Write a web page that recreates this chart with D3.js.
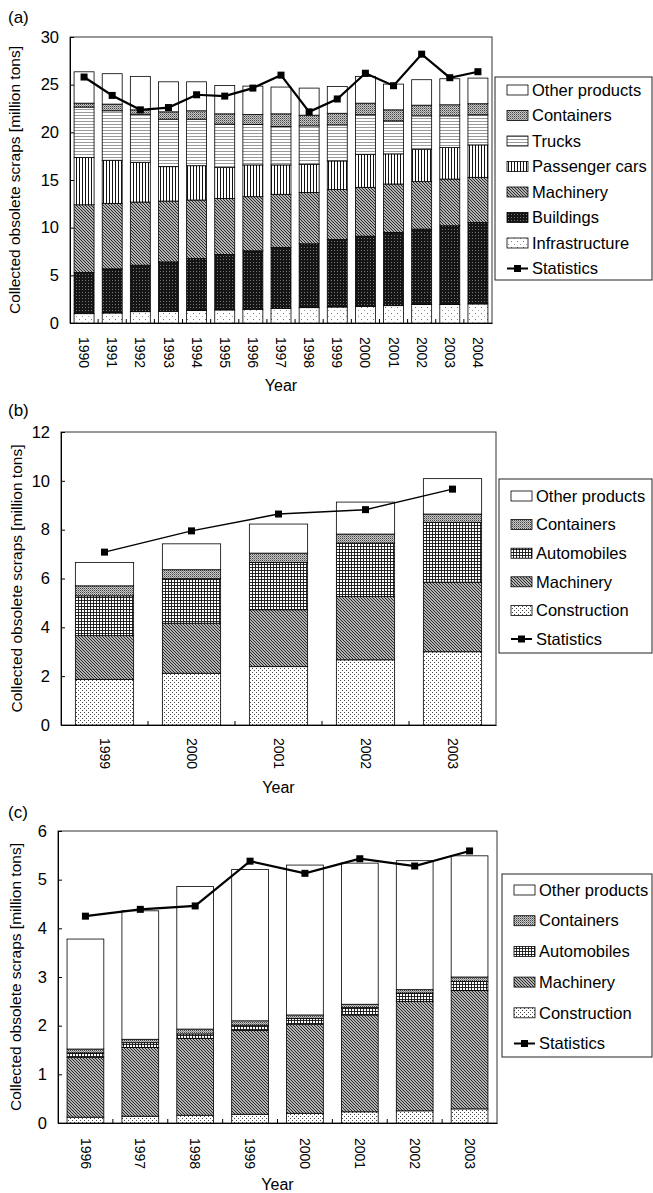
<!DOCTYPE html>
<html>
<head>
<meta charset="utf-8">
<script src="https://cdn.jsdelivr.net/npm/d3@7"></script>
<style>
body {margin:0; background:#fff;}
text {font-family:"Liberation Sans", Arial, sans-serif; fill:#000;}
</style>
</head>
<body>
<svg id="chart" width="653" height="1193"></svg>
<script>
// ---------------- data, panel (a)
var yearsA = ["1990","1991","1992","1993","1994","1995","1996","1997","1998","1999","2000","2001","2002","2003","2004"];
var infrastructureA = [0.98,1.05,1.19,1.23,1.30,1.37,1.44,1.54,1.61,1.68,1.75,1.82,1.93,1.93,2.00];
var buildingsA      = [4.32,4.63,4.87,5.18,5.46,5.82,6.13,6.38,6.70,7.08,7.36,7.68,7.92,8.27,8.55];
var machineryA      = [7.10,6.87,6.63,6.38,6.14,5.88,5.68,5.58,5.39,5.24,5.12,5.08,4.98,4.90,4.73];
var passengerCarsA  = [4.95,4.52,4.17,3.61,3.60,3.23,3.33,3.08,2.95,3.00,3.47,3.16,3.40,3.30,3.40];
var trucksA         = [5.30,5.19,5.04,4.98,4.88,4.56,4.24,4.03,4.03,3.78,4.14,3.46,3.50,3.33,3.16];
var containersA     = [0.41,0.70,0.46,0.77,0.88,1.08,1.05,1.33,1.12,1.22,1.22,1.16,1.12,1.16,1.16];
var otherA          = [3.29,3.19,3.51,3.15,3.04,2.98,2.98,2.81,2.84,2.80,2.81,2.70,2.67,2.73,2.69];
var statisticsA     = [25.8,23.87,22.36,22.6,23.94,23.8,24.64,26.0,22.15,23.5,26.2,24.89,28.2,25.73,26.36];

// ---------------- data, panel (b)
var yearsB = ["1999","2000","2001","2002","2003"];
var constructionB = [1.87,2.12,2.39,2.67,3.00];
var machineryB    = [1.79,2.05,2.33,2.59,2.85];
var automobilesB  = [1.63,1.82,1.94,2.19,2.45];
var containersB   = [0.41,0.37,0.38,0.37,0.34];
var otherB        = [0.96,1.06,1.19,1.31,1.45];
var statisticsB   = [7.08,7.95,8.64,8.82,9.66];

// ---------------- data, panel (c)
var yearsC = ["1996","1997","1998","1999","2000","2001","2002","2003"];
var constructionC = [0.12,0.14,0.16,0.18,0.20,0.23,0.25,0.29];
var machineryC    = [1.23,1.41,1.58,1.72,1.83,1.99,2.25,2.43];
var automobilesC  = [0.09,0.10,0.09,0.11,0.12,0.15,0.17,0.19];
var containersC   = [0.08,0.07,0.10,0.09,0.07,0.07,0.07,0.09];
var otherC        = [2.26,2.64,2.93,3.11,3.08,2.90,2.65,2.49];
var statisticsC   = [4.25,4.39,4.46,5.38,5.13,5.43,5.28,5.59];

var yTicksA = [0,5,10,15,20,25,30];
var yTicksB = [0,2,4,6,8,10,12];
var yTicksC = [0,1,2,3,4,5,6];

var yTitle = "Collected obsolete scraps [million tons]";

var svg = d3.select("#chart");
var defs = svg.append("defs");

/////////////////////////////////////////
// fill patterns (printed-style hatching)
function pattern(id, w, h, bg, draw){
	var p = defs.append("pattern").attr("id", id)
		.attr("patternUnits", "userSpaceOnUse")
		.attr("width", w).attr("height", h);
	p.append("rect").attr("width", w).attr("height", h).attr("fill", bg);
	draw(p);
}
function dot(p, x, y, c){
	p.append("rect").attr("x", x).attr("y", y).attr("width", 1).attr("height", 1).attr("fill", c);
}

pattern("p-other", 4, 4, "#fff", function(p){});
pattern("p-containers", 2, 2, "#c8c8c8", function(p){ dot(p,0,0,"#444"); dot(p,1,1,"#888"); });
pattern("p-trucks", 4, 3, "#fff", function(p){
	p.append("path").attr("d","M0,2 L1,1 L2,2 L3,1 L4,2").attr("stroke","#555").attr("stroke-width",0.6).attr("fill","none");
});
pattern("p-cars", 3, 3, "#fff", function(p){
	p.append("rect").attr("x",1).attr("y",0).attr("width",1).attr("height",3).attr("fill","#111");
});
pattern("p-machinery", 3, 3, "#f4f4f4", function(p){
	p.append("path").attr("d","M-1,-1 L4,4 M-1,2 L1,4 M2,-1 L4,1").attr("stroke","#222").attr("stroke-width",1.2);
});
pattern("p-buildings", 3, 3, "#151515", function(p){ dot(p,1,1,"#777"); });
pattern("p-infra", 6, 6, "#fff", function(p){ dot(p,1,1,"#777"); dot(p,4,4,"#999"); });
pattern("p-auto", 3, 3, "#fff", function(p){
	p.append("rect").attr("x",0).attr("y",0).attr("width",0.9).attr("height",3).attr("fill","#111");
	p.append("rect").attr("x",0).attr("y",0).attr("width",3).attr("height",0.9).attr("fill","#111");
});
pattern("p-construction", 4, 4, "#fff", function(p){ dot(p,0,0,"#444"); dot(p,2,2,"#444"); });

/////////////////////////////////////////
// panel definitions
var panels = [
	{
		tag: "(a)", years: yearsA, stats: statisticsA, yTicks: yTicksA, yMax: 30,
		series: [
			{name:"Infrastructure", values: infrastructureA, fill:"p-infra"},
			{name:"Buildings", values: buildingsA, fill:"p-buildings"},
			{name:"Machinery", values: machineryA, fill:"p-machinery"},
			{name:"Passenger cars", values: passengerCarsA, fill:"p-cars"},
			{name:"Trucks", values: trucksA, fill:"p-trucks"},
			{name:"Containers", values: containersA, fill:"p-containers"},
			{name:"Other products", values: otherA, fill:"p-other"}
		],
		plot: {x0:70, x1:492, y0:37, y1:323}, tagY: 23, titleX: 20,
		legend: {x0:495, y0:77, y1:280, first:90, step:25.5},
		tickTop: 14, yearY: 391, lineW: 2.2, barPad: 0.29
	},
	{
		tag: "(b)", years: yearsB, stats: statisticsB, yTicks: yTicksB, yMax: 12,
		series: [
			{name:"Construction", values: constructionB, fill:"p-construction"},
			{name:"Machinery", values: machineryB, fill:"p-machinery"},
			{name:"Automobiles", values: automobilesB, fill:"p-auto"},
			{name:"Containers", values: containersB, fill:"p-containers"},
			{name:"Other products", values: otherB, fill:"p-other"}
		],
		plot: {x0:61, x1:496, y0:432, y1:725}, tagY: 416, titleX: 22,
		legend: {x0:499, y0:479, y1:653, first:496, step:28.6},
		tickTop: 13, yearY: 793, lineW: 1.5, barPad: 0.33
	},
	{
		tag: "(c)", years: yearsC, stats: statisticsC, yTicks: yTicksC, yMax: 6,
		series: [
			{name:"Construction", values: constructionC, fill:"p-construction"},
			{name:"Machinery", values: machineryC, fill:"p-machinery"},
			{name:"Automobiles", values: automobilesC, fill:"p-auto"},
			{name:"Containers", values: containersC, fill:"p-containers"},
			{name:"Other products", values: otherC, fill:"p-other"}
		],
		plot: {x0:58, x1:497, y0:831, y1:1123}, tagY: 818, titleX: 21,
		legend: {x0:502, y0:874, y1:1057, first:890, step:30.7},
		tickTop: 15, yearY: 1190, lineW: 2.2, barPad: 0.33
	}
];

panels.forEach(drawPanel);

/////////////////////////////////////////
function drawPanel(cfg){
	var P = cfg.plot;
	var g = svg.append("g");

	var keys = cfg.series.map(function(s){ return s.name; });
	var rows = cfg.years.map(function(yr, i){
		var r = {year: yr};
		cfg.series.forEach(function(s){ r[s.name] = s.values[i]; });
		return r;
	});
	var stacked = d3.stack().keys(keys)(rows);

	var x = d3.scaleBand().domain(cfg.years).range([P.x0, P.x1])
		.paddingInner(cfg.barPad).paddingOuter(cfg.barPad / 2);
	var y = d3.scaleLinear().domain([0, cfg.yMax]).range([P.y1, P.y0]);

	// plot frame
	g.append("rect").attr("x", P.x0).attr("y", P.y0)
		.attr("width", P.x1 - P.x0).attr("height", P.y1 - P.y0)
		.attr("fill", "none").attr("stroke", "#333").attr("stroke-width", 1);

	// stacked bars
	stacked.forEach(function(layer, k){
		g.append("g").selectAll("rect").data(layer).join("rect")
			.attr("x", function(d){ return x(d.data.year); })
			.attr("y", function(d){ return y(d[1]); })
			.attr("width", x.bandwidth())
			.attr("height", function(d){ return y(d[0]) - y(d[1]); })
			.attr("fill", "url(#" + cfg.series[k].fill + ")")
			.attr("stroke", "#000").attr("stroke-width", 0.8);
	});

	// y axis
	var ya = g.append("g").attr("transform", "translate(" + P.x0 + ",0)")
		.call(d3.axisLeft(y).tickValues(cfg.yTicks).tickFormat(d3.format("d"))
			.tickSize(-4).tickPadding(11));
	ya.select(".domain").attr("stroke", "#000");
	ya.selectAll("text").style("font-size", "16.5px");

	// x axis: labels rotated, small ticks between categories
	var xa = g.append("g").attr("transform", "translate(0," + P.y1 + ")")
		.call(d3.axisBottom(x).tickSize(0).tickPadding(0));
	xa.select(".domain").attr("stroke", "#000");
	xa.selectAll("text")
		.style("font-size", "14px")
		.attr("text-anchor", "start")
		.attr("transform", "translate(0," + cfg.tickTop + ") rotate(90)")
		.attr("x", 0).attr("y", 0).attr("dy", "0.35em");
	var bounds = cfg.years.slice(1).map(function(yr){
		return x(yr) + x.bandwidth() / 2 - x.step() / 2;
	});
	g.append("g").selectAll("line").data(bounds).join("line")
		.attr("x1", function(d){ return d; }).attr("x2", function(d){ return d; })
		.attr("y1", P.y1).attr("y2", P.y1 - 4)
		.attr("stroke", "#000").attr("stroke-width", 1);

	// statistics line
	var line = d3.line()
		.x(function(d, i){ return x(cfg.years[i]) + x.bandwidth() / 2; })
		.y(function(d){ return y(d); });
	g.append("path").datum(cfg.stats).attr("d", line)
		.attr("fill", "none").attr("stroke", "#000").attr("stroke-width", cfg.lineW);
	g.append("g").selectAll("rect").data(cfg.stats).join("rect")
		.attr("x", function(d, i){ return x(cfg.years[i]) + x.bandwidth() / 2 - 3.5; })
		.attr("y", function(d){ return y(d) - 3.5; })
		.attr("width", 7).attr("height", 7).attr("fill", "#000");

	// titles
	g.append("text").attr("x", 8).attr("y", cfg.tagY).style("font-size", "17px").text(cfg.tag);
	g.append("text")
		.attr("transform", "translate(" + cfg.titleX + "," + ((P.y0 + P.y1) / 2) + ") rotate(-90)")
		.attr("text-anchor", "middle").style("font-size", "15.5px").text(yTitle);
	g.append("text").attr("x", (P.x0 + P.x1) / 2).attr("y", cfg.yearY)
		.attr("text-anchor", "middle").style("font-size", "16px").text("Year");

	drawLegend(g, cfg);
}

/////////////////////////////////////////
function drawLegend(g, cfg){
	var L = cfg.legend;
	g.append("rect").attr("x", L.x0).attr("y", L.y0)
		.attr("width", 652 - L.x0).attr("height", L.y1 - L.y0)
		.attr("fill", "#fff").attr("stroke", "#222").attr("stroke-width", 1);

	var items = cfg.series.slice().reverse();
	var sx = L.x0 + 12;
	items.forEach(function(s, i){
		var cy = L.first + i * L.step;
		g.append("rect").attr("x", sx).attr("y", cy - 5).attr("width", 21).attr("height", 10)
			.attr("fill", "url(#" + s.fill + ")").attr("stroke", "#000").attr("stroke-width", 0.8);
		g.append("text").attr("x", sx + 25).attr("y", cy).attr("dy", "0.35em")
			.style("font-size", "16.5px").text(s.name);
	});
	var cy = L.first + items.length * L.step;
	g.append("line").attr("x1", sx).attr("x2", sx + 21).attr("y1", cy).attr("y2", cy)
		.attr("stroke", "#000").attr("stroke-width", 2);
	g.append("rect").attr("x", sx + 7).attr("y", cy - 3.5).attr("width", 7).attr("height", 7).attr("fill", "#000");
	g.append("text").attr("x", sx + 25).attr("y", cy).attr("dy", "0.35em")
		.style("font-size", "16.5px").text("Statistics");
}
</script>
</body>
</html>
